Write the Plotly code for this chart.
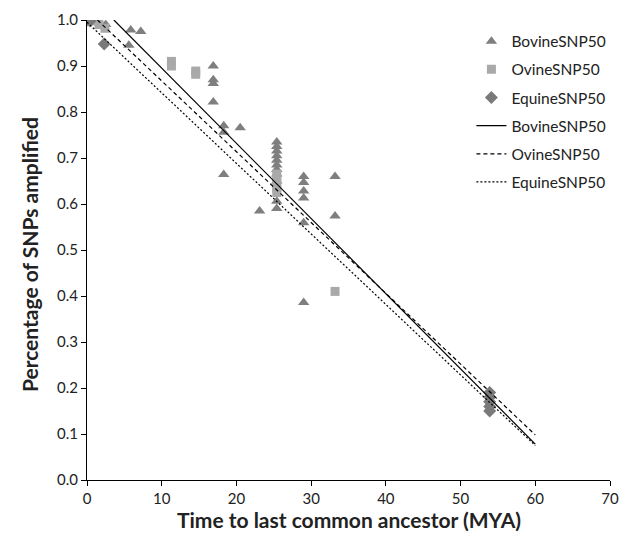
import plotly.graph_objects as go

# Bovine SNP50 (triangles)
bovine_x = [0.5, 1.5, 2.5, 5.85, 7.2, 5.6, 16.9, 16.9, 16.9, 16.9, 18.3, 18.3, 20.5, 18.3,
            25.4, 25.4, 25.4, 25.4, 25.4, 25.4, 25.4, 25.4, 25.4, 25.4, 25.4, 23.1,
            29.0, 29.0, 29.0, 29.0, 29.0, 29.0, 33.2, 33.2]
bovine_y = [1.0, 0.998, 0.99, 0.978, 0.975, 0.945, 0.9, 0.87, 0.862, 0.822, 0.77, 0.756, 0.766, 0.664,
            0.735, 0.725, 0.715, 0.705, 0.695, 0.685, 0.675, 0.665, 0.65, 0.606, 0.59, 0.585,
            0.66, 0.647, 0.628, 0.613, 0.559, 0.386, 0.66, 0.574]

# Ovine SNP50 (squares)
ovine_x = [0.3, 1.0, 1.6, 2.4, 11.3, 11.3, 14.55, 14.55, 25.4, 25.4, 25.4, 25.4, 25.4, 33.2]
ovine_y = [1.0, 0.998, 0.99, 0.982, 0.91, 0.9, 0.889, 0.882, 0.665, 0.655, 0.645, 0.635, 0.625, 0.41]

# Equine SNP50 (diamonds)
equine_x = [0.0, 0.4, 2.3, 53.9, 53.9, 53.9, 53.9, 53.9]
equine_y = [1.0, 0.998, 0.948, 0.19, 0.18, 0.17, 0.16, 0.15]

# Fitted trend lines (endpoints)
bov_line_x = [3.6, 60]
bov_line_y = [1.0, 0.078]
ovi_line_x = [1.4, 60]
ovi_line_y = [1.0, 0.098]
equ_line_x = [0.0, 60]
equ_line_y = [0.995, 0.075]

x_ticks = [0, 10, 20, 30, 40, 50, 60, 70]
y_ticks = [0.0, 0.1, 0.2, 0.3, 0.4, 0.5, 0.6, 0.7, 0.8, 0.9, 1.0]

fig = go.Figure()
fig.add_trace(go.Scatter(x=bovine_x, y=bovine_y, mode="markers", name="BovineSNP50",
                         legendgroup="a",
                         marker=dict(symbol="triangle-up", size=10, color="#7f7f7f")))
fig.add_trace(go.Scatter(x=ovine_x, y=ovine_y, mode="markers", name="OvineSNP50",
                         legendgroup="b",
                         marker=dict(symbol="square", size=9, color="#a9a9a9")))
fig.add_trace(go.Scatter(x=equine_x, y=equine_y, mode="markers", name="EquineSNP50",
                         legendgroup="c",
                         marker=dict(symbol="diamond", size=10, color="#7a7a7a")))
fig.add_trace(go.Scatter(x=bov_line_x, y=bov_line_y, mode="lines", name="BovineSNP50",
                         legendgroup="d",
                         line=dict(color="black", width=1.2, dash="solid")))
fig.add_trace(go.Scatter(x=ovi_line_x, y=ovi_line_y, mode="lines", name="OvineSNP50",
                         legendgroup="e",
                         line=dict(color="black", width=1.2, dash="4px,3px")))
fig.add_trace(go.Scatter(x=equ_line_x, y=equ_line_y, mode="lines", name="EquineSNP50",
                         legendgroup="f",
                         line=dict(color="black", width=1.2, dash="2px,2px")))

fig.update_layout(
    width=619, height=531,
    margin=dict(l=79, r=17, t=12, b=59),
    paper_bgcolor="white", plot_bgcolor="white",
    font=dict(family="Lato, Open Sans, sans-serif", size=15, color="#222"),
    legend=dict(x=0.735, y=0.99, xanchor="left", yanchor="top",
                font=dict(size=15.5), traceorder="grouped", tracegroupgap=5,
                bgcolor="rgba(0,0,0,0)"),
    xaxis=dict(range=[0, 70], tickvals=x_ticks, ticks="outside", ticklen=5,
               tickcolor="black", showline=True, linecolor="black", linewidth=1,
               showgrid=False, zeroline=False, automargin=False,
               tickfont=dict(size=15)),
    yaxis=dict(range=[0, 1.0], tickvals=y_ticks, tickformat=".1f", ticks="outside",
               ticklen=5, tickcolor="black", showline=True, linecolor="black",
               linewidth=1, showgrid=False, zeroline=False, automargin=False,
               tickfont=dict(size=15)),
    annotations=[
        dict(text="<b>Time to last common ancestor (MYA)</b>", xref="paper", yref="paper",
             x=0.5, y=-0.085, xanchor="center", yanchor="middle", showarrow=False,
             font=dict(size=21)),
        dict(text="<b>Percentage of SNPs amplified</b>", xref="paper", yref="paper",
             x=-0.11, y=0.49, xanchor="center", yanchor="middle", showarrow=False,
             textangle=-90, font=dict(size=21)),
    ],
)

fig.write_html("out.html")
